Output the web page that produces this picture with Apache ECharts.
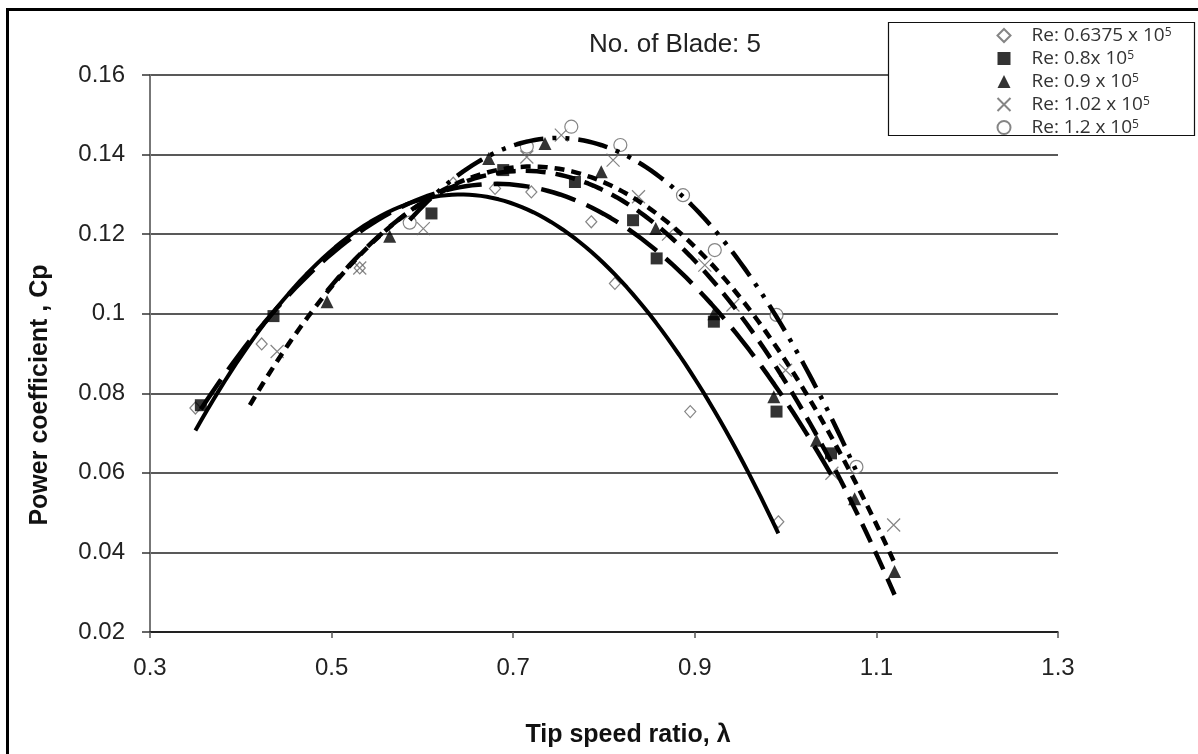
<!DOCTYPE html>
<html>
<head>
<meta charset="utf-8">
<script src="https://cdn.jsdelivr.net/npm/echarts@6/dist/echarts.min.js"></script>
<style>
  html, body { margin: 0; padding: 0; background: #fff; }
  #chart { width: 1198px; height: 754px; }
</style>
</head>
<body>
<div id="chart"></div>
<script>
// Measured power coefficient Cp against tip speed ratio (lambda), five-bladed rotor
const seriesNames = [
  'Re: 0.6375 x 10^5',
  'Re: 0.8x 10^5',
  'Re: 0.9 x 10^5',
  'Re: 1.02 x 10^5',
  'Re: 1.2 x 10^5'
];
const re06375 = [[0.350,0.0763],[0.423,0.0924],[0.531,0.1115],[0.634,0.1328],[0.680,0.1315],[0.720,0.1306],[0.786,0.1231],[0.812,0.1076],[0.895,0.0754],[0.992,0.0477]];
const re08    = [[0.356,0.0770],[0.436,0.0994],[0.610,0.1252],[0.689,0.1361],[0.768,0.1331],[0.832,0.1235],[0.858,0.1139],[0.921,0.0980],[0.990,0.0754],[1.050,0.0649]];
const re09    = [[0.495,0.1030],[0.564,0.1195],[0.673,0.1390],[0.735,0.1428],[0.797,0.1357],[0.857,0.1214],[0.921,0.1000],[0.987,0.0791],[1.034,0.0682],[1.076,0.0535],[1.120,0.0352]];
const re102   = [[0.440,0.0905],[0.531,0.1115],[0.601,0.1214],[0.715,0.1394],[0.753,0.1449],[0.810,0.1386],[0.838,0.1294],[0.871,0.1200],[0.911,0.1122],[0.942,0.1022],[1.000,0.0858],[1.051,0.0599],[1.119,0.0469]];
const re12    = [[0.586,0.1229],[0.715,0.1420],[0.764,0.1470],[0.818,0.1424],[0.887,0.1298],[0.922,0.1160],[0.990,0.0997],[1.078,0.0615]];

// Backward extension of each trendline below its first measured lambda
const trendBackward = [0, 0, 0, 0.03, 0];

const xTicks = { min: 0.3, max: 1.3, step: 0.2 };
const yTicks = { min: 0.02, max: 0.16, step: 0.02 };

const dataSets = [re06375, re08, re09, re102, re12];

// Second-order least-squares trendline through a point set
function quadFit(pts) {
  const S = [0, 0, 0, 0, 0], T = [0, 0, 0];
  pts.forEach(([x, y]) => {
    let p = 1;
    for (let k = 0; k < 5; k++) {
      S[k] += p;
      if (k < 3) T[k] += p * y;
      p *= x;
    }
  });
  const A = [
    [S[0], S[1], S[2], T[0]],
    [S[1], S[2], S[3], T[1]],
    [S[2], S[3], S[4], T[2]]
  ];
  for (let i = 0; i < 3; i++) {
    let piv = i;
    for (let r = i + 1; r < 3; r++) if (Math.abs(A[r][i]) > Math.abs(A[piv][i])) piv = r;
    [A[i], A[piv]] = [A[piv], A[i]];
    for (let r = 0; r < 3; r++) {
      if (r === i) continue;
      const f = A[r][i] / A[i][i];
      for (let c = i; c < 4; c++) A[r][c] -= f * A[i][c];
    }
  }
  return [A[0][3] / A[0][0], A[1][3] / A[1][1], A[2][3] / A[2][2]];
}

function trendPoints(pts, back) {
  const c = quadFit(pts);
  const xs = pts.map(p => p[0]);
  const x0 = Math.min(...xs) - back, x1 = Math.max(...xs);
  const out = [];
  const n = 100;
  for (let i = 0; i <= n; i++) {
    const x = x0 + (x1 - x0) * i / n;
    out.push([x, c[0] + c[1] * x + c[2] * x * x]);
  }
  return out;
}

const markerStyles = [
  { symbol: 'diamond', symbolSize: [11, 12], itemStyle: { color: '#fff', borderColor: '#666', borderWidth: 1.2 } },
  { symbol: 'rect', symbolSize: 12, itemStyle: { color: '#000' } },
  { symbol: 'triangle', symbolSize: 13, itemStyle: { color: '#000' } },
  { symbol: 'path://M0,0L10,10M10,0L0,10', symbolSize: 13, itemStyle: { color: 'none', borderColor: '#666', borderWidth: 1.2 } },
  { symbol: 'circle', symbolSize: 13, itemStyle: { color: '#fff', borderColor: '#666', borderWidth: 1.2 } }
];

const trendStyles = [
  { type: 'solid', width: 4 },
  { type: [36, 12], width: 4.5 },
  { type: [20, 10], width: 4.5 },
  { type: [10, 7], width: 4.5 },
  { type: [30, 9, 4, 9, 4, 9], width: 4.5 }
];

const series = [];
dataSets.forEach((pts, i) => {
  series.push({
    name: seriesNames[i],
    type: 'scatter',
    data: pts,
    symbol: markerStyles[i].symbol,
    symbolSize: markerStyles[i].symbolSize,
    itemStyle: markerStyles[i].itemStyle,
    z: 2,
    silent: true
  });
});
dataSets.forEach((pts, i) => {
  series.push({
    name: seriesNames[i] + ' trend',
    type: 'line',
    data: trendPoints(pts, trendBackward[i]),
    showSymbol: false,
    lineStyle: { color: '#000', width: trendStyles[i].width, type: trendStyles[i].type },
    z: 3,
    silent: true
  });
});

const chart = echarts.init(document.getElementById('chart'), null, { renderer: 'canvas' });

chart.setOption({
  animation: false,
  backgroundColor: '#fff',
  grid: { left: 150, right: 140, top: 75, bottom: 122, containLabel: false },
  xAxis: {
    type: 'value',
    min: xTicks.min, max: xTicks.max, interval: xTicks.step,
    axisLine: { show: true, onZero: false, lineStyle: { color: '#111', width: 1.5 } },
    axisTick: { show: true, length: 6, lineStyle: { color: '#555', width: 1.5 } },
    splitLine: { show: false },
    axisLabel: {
      margin: 24, color: '#222', fontSize: 24, fontFamily: 'Liberation Sans, Arial, sans-serif',
      formatter: v => String(+v.toFixed(1))
    }
  },
  yAxis: {
    type: 'value',
    min: yTicks.min, max: yTicks.max, interval: yTicks.step,
    axisLine: { show: true, lineStyle: { color: '#777', width: 2 } },
    axisTick: { show: true, length: 8, lineStyle: { color: '#333', width: 1.5 } },
    splitLine: { show: true, lineStyle: { color: '#222', width: 1.5 } },
    axisLabel: {
      margin: 25, color: '#222', fontSize: 24, fontFamily: 'Liberation Sans, Arial, sans-serif',
      formatter: v => String(+v.toFixed(2))
    }
  },
  legend: {
    data: seriesNames,
    orient: 'vertical',
    left: 990, top: 21,
    itemWidth: 13, itemHeight: 13, itemGap: 4,
    z: 10,
    selectedMode: false,
    formatter: name => {
      const parts = name.split('^');
      return '{g|}{t|' + parts[0] + '}{s|' + parts[1] + '}';
    },
    textStyle: {
      color: '#333',
      fontSize: 19,
      fontFamily: 'Open Sans, sans-serif',
      lineHeight: 17,
      rich: {
        g: { width: 16, lineHeight: 17 },
        t: { fontSize: 19, fontFamily: 'Open Sans, sans-serif', color: '#333', lineHeight: 17 },
        s: { fontSize: 12, fontFamily: 'Open Sans, sans-serif', color: '#333', verticalAlign: 'top', lineHeight: 17 }
      }
    }
  },
  graphic: [
    { type: 'rect', z: 0, shape: { x: 7.5, y: 9.5, width: 1400, height: 1000 }, style: { fill: 'none', stroke: '#000', lineWidth: 3 } },
    { type: 'rect', z: 9, shape: { x: 888.5, y: 22.5, width: 306, height: 113 }, style: { fill: '#fff', stroke: '#111', lineWidth: 1.2 } },
    { type: 'text', z: 9, x: 675, y: 45, style: { text: 'No. of Blade: 5', font: '26px "Liberation Sans", Arial, sans-serif', fill: '#222', textAlign: 'center', textVerticalAlign: 'middle' } },
    { type: 'text', z: 9, x: 628, y: 735, style: { text: 'Tip speed ratio, λ', font: 'bold 25px "Liberation Sans", Arial, sans-serif', fill: '#111', textAlign: 'center', textVerticalAlign: 'middle' } },
    { type: 'text', z: 9, x: 40, y: 395, rotation: Math.PI / 2, style: { text: 'Power coefficient , Cp', font: 'bold 25px "Liberation Sans", Arial, sans-serif', fill: '#111', textAlign: 'center', textVerticalAlign: 'middle' } }
  ],
  series: series
});
</script>
</body>
</html>
